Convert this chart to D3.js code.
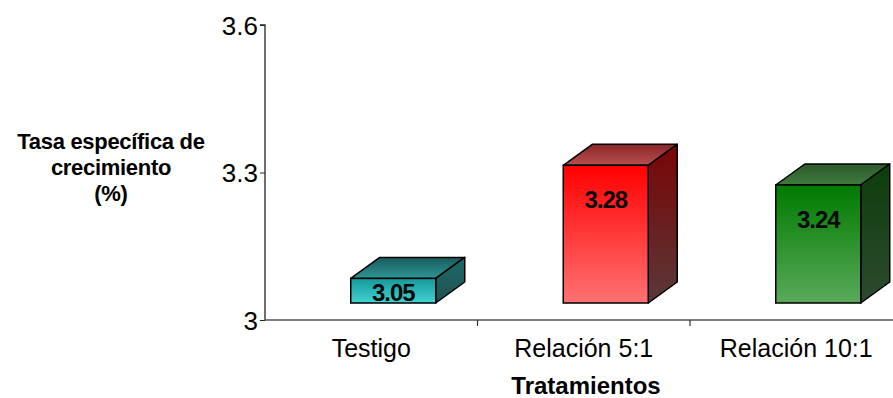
<!DOCTYPE html>
<html>
<head>
<meta charset="utf-8">
<script src="https://cdn.jsdelivr.net/npm/d3@7"></script>
<style>
  html, body { margin: 0; padding: 0; background: #fff; }
  svg { display: block; font-family: "Liberation Sans", Arial, sans-serif; }
</style>
</head>
<body>
<svg id="chart" width="893" height="398"></svg>
<script>
// Treatments and their specific growth rate (%)
const categories = ["Testigo", "Relación 5:1", "Relación 10:1"];
const values = [3.05, 3.28, 3.24];
const yTicks = [3, 3.3, 3.6];
const yTitleLines = ["Tasa específica de", "crecimiento", "(%)"];
const xTitle = "Tratamientos";

// Face colours per bar: front (top -> bottom), roof (back -> front), side (top -> bottom)
const palettes = [
  { front: ["#169898", "#42d3d3"], roof: ["#1b5c5c", "#2e9494"], side: ["#1c6b6b", "#234f4f"] },
  { front: ["#ff0000", "#ff7272"], roof: ["#8c2525", "#b85050"], side: ["#7a0505", "#5a3838"] },
  { front: ["#007a00", "#5aaa5a"], roof: ["#2a5a2a", "#3f7a3f"], side: ["#0d3d0d", "#2d4a2d"] }
];

const svg = d3.select("#chart");
const plotLeft = 265, plotBottom = 320, plotTop = 25;

const x = d3.scaleBand().domain(categories).range([plotLeft, plotLeft + 212.5 * 3]).padding(0);
const y = d3.scaleLinear().domain([3, 3.6]).range([plotBottom, plotTop]);

// 3D projection: bars sit behind the axis plane, with visible depth
const shift = { dx: 22, dy: -17 };
const depth = { dx: 29, dy: -21 };
const barW = x.bandwidth() * 0.4;

const defs = svg.append("defs");
palettes.forEach((p, i) => {
  const mk = (id, cols) => {
    const g = defs.append("linearGradient").attr("id", id)
      .attr("x1", 0).attr("y1", 0).attr("x2", 0).attr("y2", 1);
    g.append("stop").attr("offset", "0%").attr("stop-color", cols[0]);
    g.append("stop").attr("offset", "100%").attr("stop-color", cols[1]);
  };
  mk("front" + i, p.front);
  mk("roof" + i, p.roof);
  mk("side" + i, p.side);
});

// Y axis
const yAxis = svg.append("g")
  .attr("transform", `translate(${plotLeft},0)`)
  .call(d3.axisLeft(y).tickValues(yTicks).tickSize(5).tickPadding(2).tickFormat(d3.format("~g")));
yAxis.select(".domain").attr("stroke", "#222").attr("stroke-width", 1.3).attr("d", `M-5,${plotTop}H0V${plotBottom}`);
yAxis.selectAll(".tick line").attr("stroke", "#222");
yAxis.selectAll(".tick text")
  .attr("font-family", "Liberation Sans, Arial, sans-serif")
  .attr("font-size", 26).attr("fill", "#000").attr("dy", "0.36em");

// X axis line with ticks between categories
svg.append("line")
  .attr("x1", plotLeft).attr("x2", 893).attr("y1", plotBottom).attr("y2", plotBottom)
  .attr("stroke", "#555").attr("stroke-width", 1.5);
svg.selectAll(".xtick")
  .data(categories.slice(1))
  .join("line")
  .attr("class", "xtick")
  .attr("x1", d => x(d)).attr("x2", d => x(d))
  .attr("y1", plotBottom).attr("y2", plotBottom + 6)
  .attr("stroke", "#333").attr("stroke-width", 1.2);

svg.selectAll(".xlabel")
  .data(categories)
  .join("text")
  .attr("class", "xlabel")
  .attr("x", d => x(d) + x.bandwidth() / 2)
  .attr("y", 357)
  .attr("text-anchor", "middle")
  .attr("font-size", 25)
  .attr("fill", "#000")
  .text(d => d);

// Bars
const bars = svg.selectAll(".bar")
  .data(categories.map((c, i) => ({ c, v: values[i], i })))
  .join("g")
  .attr("class", "bar");

bars.each(function(d) {
  const g = d3.select(this);
  const x0 = x(d.c) + x.bandwidth() / 2 - barW / 2 + shift.dx;
  const x1 = x0 + barW;
  const yBase = y(3) + shift.dy;
  const yTopFace = y(d.v) + shift.dy;
  const sw = 1.5;
  // roof
  g.append("path")
    .attr("d", `M${x0},${yTopFace}L${x0 + depth.dx},${yTopFace + depth.dy}L${x1 + depth.dx},${yTopFace + depth.dy}L${x1},${yTopFace}Z`)
    .attr("fill", `url(#roof${d.i})`).attr("stroke", "#000").attr("stroke-width", sw).attr("stroke-linejoin", "round");
  // side
  g.append("path")
    .attr("d", `M${x1},${yTopFace}L${x1 + depth.dx},${yTopFace + depth.dy}L${x1 + depth.dx},${yBase + depth.dy}L${x1},${yBase}Z`)
    .attr("fill", `url(#side${d.i})`).attr("stroke", "#000").attr("stroke-width", sw).attr("stroke-linejoin", "round");
  // front
  g.append("rect")
    .attr("x", x0).attr("y", yTopFace).attr("width", barW).attr("height", yBase - yTopFace)
    .attr("fill", `url(#front${d.i})`).attr("stroke", "#000").attr("stroke-width", sw);
  // value label
  const h = yBase - yTopFace;
  g.append("text")
    .attr("x", x0 + barW / 2)
    .attr("y", yTopFace + Math.min(43, h / 2 + 10))
    .attr("text-anchor", "middle")
    .attr("font-size", 24)
    .attr("font-weight", "bold")
    .attr("letter-spacing", -1)
    .attr("fill", "#0a0a0a")
    .text(d3.format(".2f")(d.v));
});

// Axis titles
const yTitle = svg.append("text")
  .attr("text-anchor", "middle")
  .attr("font-size", 22)
  .attr("font-weight", "bold")
  .attr("letter-spacing", -0.3)
  .attr("fill", "#000");
yTitle.selectAll("tspan")
  .data(yTitleLines)
  .join("tspan")
  .attr("x", 111)
  .attr("y", (d, i) => 149 + i * 26)
  .text(d => d);

svg.append("text")
  .attr("x", 586).attr("y", 394)
  .attr("text-anchor", "middle")
  .attr("font-size", 24)
  .attr("font-weight", "bold")
  .attr("fill", "#000")
  .text(xTitle);
</script>
</body>
</html>
